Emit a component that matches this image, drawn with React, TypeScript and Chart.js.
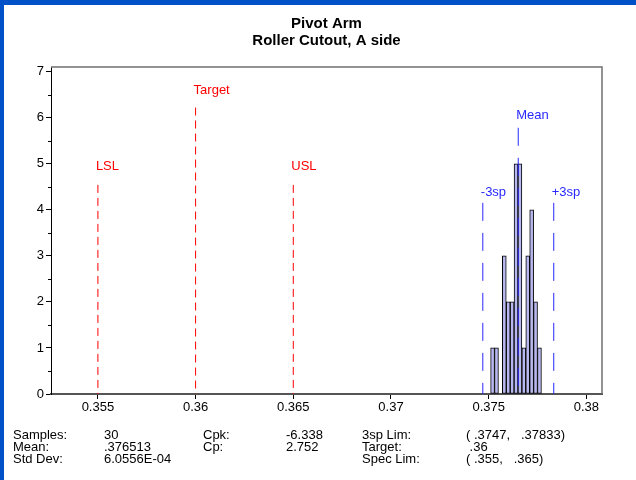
import { useEffect, useRef } from "react";
import { Chart, registerables } from "chart.js";

Chart.register(...registerables);

// ---- data ----
const titleLines = ["Pivot Arm", "Roller Cutout, A side"];
const binCenters = [0.3752, 0.3754, 0.3756, 0.3758, 0.376, 0.3762, 0.3764, 0.3766, 0.3768, 0.377, 0.3772, 0.3774, 0.3776];
const binCounts = [1, 1, 0, 3, 2, 2, 5, 5, 1, 3, 4, 2, 1];
const xTicks = [0.355, 0.36, 0.365, 0.37, 0.375, 0.38];
const yTicks = [0, 1, 2, 3, 4, 5, 6, 7];
const xMin = 0.3526;
const xMax = 0.3808;
const yMax = 7.1;

const specLabels = ["LSL", "Target", "USL"];
const specValues = [0.355, 0.36, 0.365];
const specLineTops = [4.54, 6.22, 4.54];
const specLabelY = [4.94, 6.59, 4.94];

const procLabels = ["Mean", "-3sp", "+3sp"];
const procValues = [0.376513, 0.3747, 0.37833];
const procLineTops = [5.78, 4.15, 4.15];
const procLabelY = [6.05, 4.38, 4.38];

const statsCol1Labels = ["Samples:", "Mean:", "Std Dev:"];
const statsCol1Values = ["30", ".376513", "6.0556E-04"];
const statsCol2Labels = ["Cpk:", "Cp:"];
const statsCol2Values = ["-6.338", "2.752"];
const statsCol3Labels = ["3sp Lim:", "Target:", "Spec Lim:"];
const statsCol3Values = ["( .3747,   .37833)", " .36", "( .355,   .365)"];

const RED = "#FF0000";
const BLUE = "#2828FF";
const FONT = "'Liberation Sans', Arial, sans-serif";

export default function App() {
  const ref = useRef<HTMLCanvasElement | null>(null);

  useEffect(() => {
    if (!ref.current) return;

    const barData = binCenters
      .map((x, i) => ({ x, y: binCounts[i] }))
      .filter((p) => p.y > 0);

    const lineSets: any[] = [];
    specValues.forEach((v, i) => {
      lineSets.push({
        type: "line",
        label: specLabels[i],
        data: [
          { x: v, y: specLineTops[i] },
          { x: v, y: 0 },
        ],
        borderColor: RED,
        borderWidth: 1,
        borderDash: [8, 5],
        pointRadius: 0,
        fill: false,
        order: 0,
      });
    });
    procValues.forEach((v, i) => {
      lineSets.push({
        type: "line",
        label: procLabels[i],
        data: [
          { x: v, y: procLineTops[i] },
          { x: v, y: 0 },
        ],
        borderColor: BLUE,
        borderWidth: 1,
        borderDash: [18, 12],
        pointRadius: 0,
        fill: false,
        order: 0,
      });
    });

    const overlay = {
      id: "overlay",
      afterDraw(chart: any) {
        const { ctx, chartArea } = chart;
        const xs = chart.scales.x;
        const ys = chart.scales.y;
        ctx.save();
        // top & right frame
        ctx.strokeStyle = "#707070";
        ctx.lineWidth = 1.5;
        ctx.beginPath();
        ctx.moveTo(chartArea.left, chartArea.top);
        ctx.lineTo(chartArea.right, chartArea.top);
        ctx.lineTo(chartArea.right, chartArea.bottom);
        ctx.stroke();
        // minor y ticks
        ctx.strokeStyle = "#000";
        ctx.lineWidth = 1;
        for (let i = 0; i < yTicks.length - 1; i++) {
          const y = Math.round(ys.getPixelForValue((yTicks[i] + yTicks[i + 1]) / 2)) + 0.5;
          ctx.beginPath();
          ctx.moveTo(chartArea.left - 3, y);
          ctx.lineTo(chartArea.left, y);
          ctx.stroke();
        }
        // reference labels
        ctx.font = `13px ${FONT}`;
        ctx.textAlign = "left";
        ctx.textBaseline = "middle";
        ctx.fillStyle = RED;
        specValues.forEach((v, i) => {
          ctx.fillText(specLabels[i], xs.getPixelForValue(v) - 2, ys.getPixelForValue(specLabelY[i]));
        });
        ctx.fillStyle = BLUE;
        procValues.forEach((v, i) => {
          ctx.fillText(procLabels[i], xs.getPixelForValue(v) - 2, ys.getPixelForValue(procLabelY[i]));
        });
        // title
        ctx.fillStyle = "#000";
        ctx.font = `bold 15px ${FONT}`;
        ctx.textAlign = "center";
        const cx = (chartArea.left + chartArea.right) / 2;
        ctx.fillText(titleLines[0], cx, 24);
        ctx.fillText(titleLines[1], cx, 41);
        ctx.restore();
      },
    };

    const chart = new Chart(ref.current, {
      type: "bar",
      data: {
        datasets: [
          {
            type: "bar",
            label: "Count",
            data: barData as any,
            backgroundColor: "#B8B8F0",
            borderColor: "#000000",
            borderWidth: 1,
            borderSkipped: false,
            categoryPercentage: 1,
            barPercentage: 1,
            grouped: false,
            order: 1,
          } as any,
          ...lineSets,
        ],
      },
      options: {
        animation: false,
        responsive: false,
        devicePixelRatio: 1,
        events: [],
        layout: { padding: { top: 67, right: 34, bottom: 66, left: 0 } },
        plugins: {
          legend: { display: false },
          tooltip: { enabled: false },
          title: { display: false },
        },
        scales: {
          x: {
            type: "linear",
            offset: false,
            min: xMin,
            max: xMax,
            afterBuildTicks: (s: any) => {
              s.ticks = xTicks.map((v) => ({ value: v }));
            },
            afterFit: (s: any) => {
              s.height = 20;
            },
            ticks: {
              color: "#000",
              font: { family: FONT, size: 13 },
              padding: 1,
              maxRotation: 0,
              autoSkip: false,
              callback: (v: any) => String(v),
            },
            grid: {
              offset: false,
              drawOnChartArea: false,
              drawTicks: true,
              tickLength: 5,
              tickColor: "#000",
            },
            border: { display: true, color: "#555", width: 2 },
          },
          y: {
            type: "linear",
            min: 0,
            max: yMax,
            afterBuildTicks: (s: any) => {
              s.ticks = yTicks.map((v) => ({ value: v }));
            },
            afterFit: (s: any) => {
              s.width = 51;
            },
            ticks: {
              color: "#000",
              font: { family: FONT, size: 13 },
              padding: 2,
              autoSkip: false,
              callback: (v: any) => String(v),
            },
            grid: {
              drawOnChartArea: false,
              drawTicks: true,
              tickLength: 5,
              tickColor: "#000",
            },
            border: { display: true, color: "#000", width: 1 },
          },
        },
      } as any,
      plugins: [overlay],
    });

    return () => chart.destroy();
  }, []);

  const rowTops = [429, 441, 453];
  const cell = (text: string, left: number, top: number, key: string) => (
    <div
      key={key}
      style={{
        position: "absolute",
        left,
        top,
        font: `13px ${FONT}`,
        lineHeight: "12px",
        whiteSpace: "pre",
        color: "#000",
      }}
    >
      {text}
    </div>
  );

  return (
    <div
      style={{
        position: "absolute",
        left: 0,
        top: 0,
        width: 636,
        height: 480,
        background: "#fff",
        overflow: "hidden",
      }}
    >
      <div style={{ position: "absolute", left: 0, top: 0, width: 636, height: 5, background: "#0050C8" }} />
      <div style={{ position: "absolute", left: 0, top: 0, width: 4, height: 480, background: "#0050C8" }} />
      <canvas ref={ref} width={636} height={480} style={{ position: "absolute", left: 0, top: 0 }} />
      {statsCol1Labels.map((t, i) => cell(t, 13, rowTops[i], "a" + i))}
      {statsCol1Values.map((t, i) => cell(t, 104, rowTops[i], "b" + i))}
      {statsCol2Labels.map((t, i) => cell(t, 203, rowTops[i], "c" + i))}
      {statsCol2Values.map((t, i) => cell(t, 286, rowTops[i], "d" + i))}
      {statsCol3Labels.map((t, i) => cell(t, 362, rowTops[i], "e" + i))}
      {statsCol3Values.map((t, i) => cell(t, 466, rowTops[i], "f" + i))}
    </div>
  );
}
